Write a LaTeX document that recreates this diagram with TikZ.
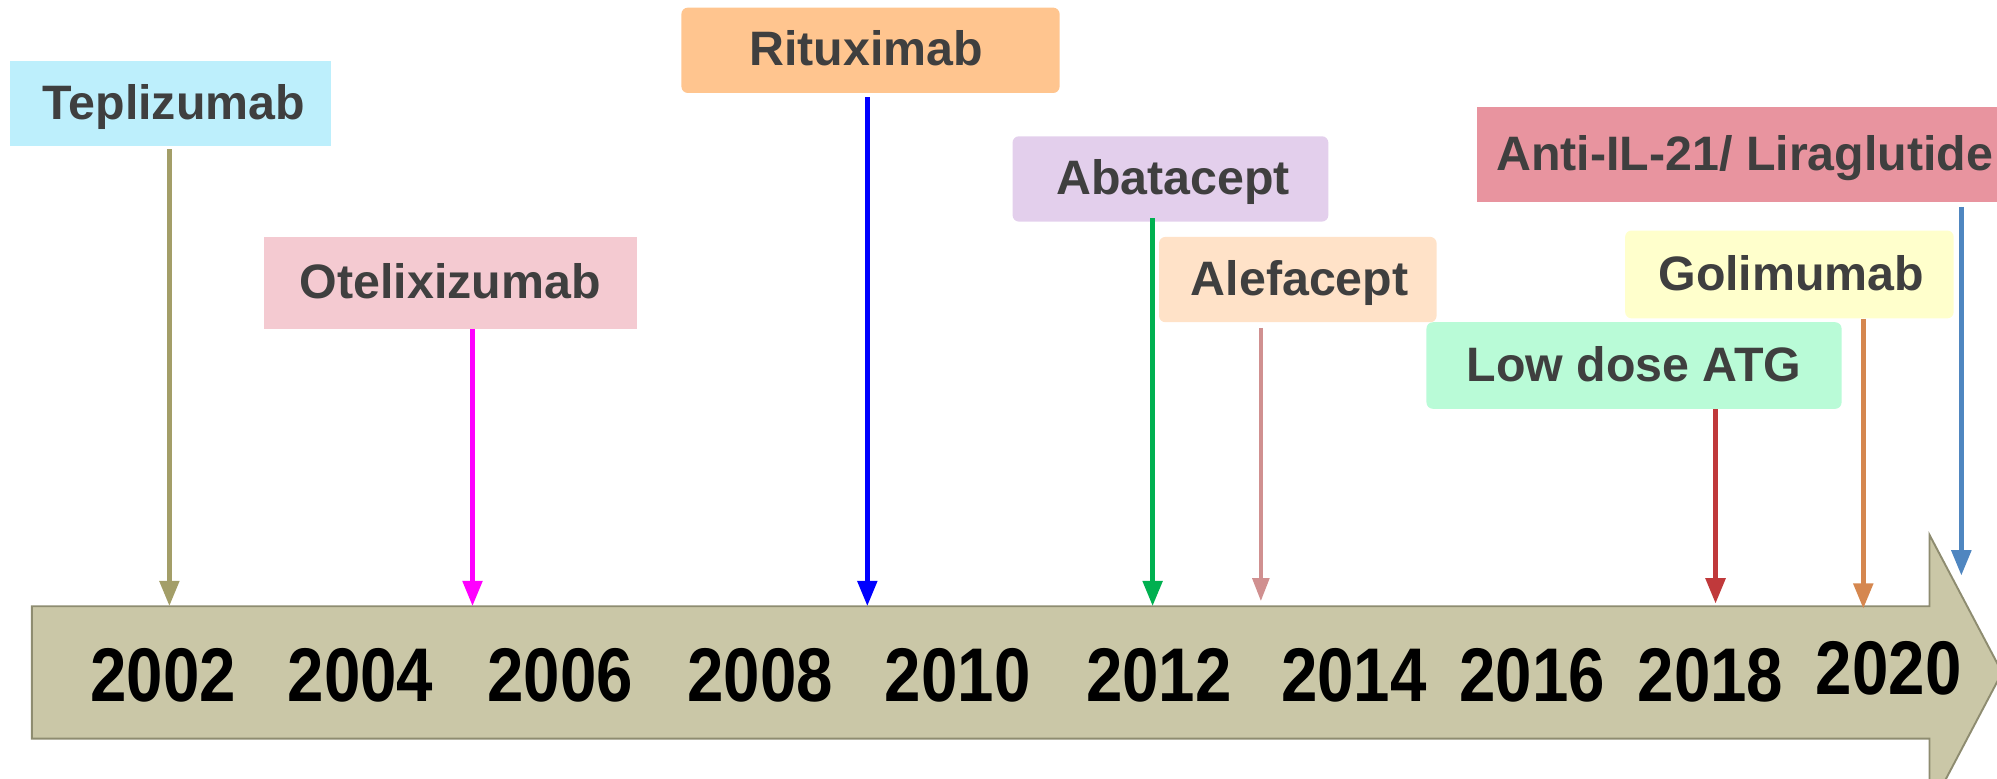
\documentclass[tikz,border=0pt]{standalone}
\usepackage{fontspec}
\setmainfont{Liberation Sans}
\newfontfamily\yearfont[FakeStretch=0.86]{Liberation Sans}
\usetikzlibrary{arrows.meta}
\definecolor{tepF}{HTML}{BDEFFC}
\definecolor{oteF}{HTML}{F4CAD1}
\definecolor{ritF}{HTML}{FFC58F}
\definecolor{abaF}{HTML}{E3CFEC}
\definecolor{aleF}{HTML}{FFE2C8}
\definecolor{antiF}{HTML}{E8949F}
\definecolor{goliF}{HTML}{FFFFCC}
\definecolor{atgF}{HTML}{B9FBD7}
\definecolor{tepC}{HTML}{A39E68}
\definecolor{oteC}{HTML}{FF00FF}
\definecolor{ritC}{HTML}{0000FF}
\definecolor{abaC}{HTML}{00B050}
\definecolor{aleC}{HTML}{D09090}
\definecolor{antiC}{HTML}{4F86C0}
\definecolor{goliC}{HTML}{D5874F}
\definecolor{atgC}{HTML}{C0393B}
\definecolor{lineF}{HTML}{CAC7A7}
\definecolor{lineD}{HTML}{8E8C70}
\definecolor{labT}{HTML}{3F3F3F}
\tikzset{
  label box/.style={inner sep=0pt, text=labT, font=\fontsize{21.6}{25}\selectfont\bfseries, anchor=center, text depth=0.06cm},
  sharp/.style={label box},
  rnd/.style={label box, rounded corners=0.1cm},
  year/.style={inner sep=0pt, text=black, font=\fontsize{34}{40}\yearfont\bfseries},
  pin/.style={line width=0.08cm, -{Triangle[length=0.4cm,width=0.3cm]}},
  thinpin/.style={line width=0.06cm, -{Triangle[length=0.36cm,width=0.26cm]}}
}
\begin{document}
\begin{tikzpicture}[x=0.02cm,y=-0.02cm]
\useasboundingbox (0,0) rectangle (1568,611);
\clip (0,0) rectangle (1568,611);
% timeline arrow
\draw[fill=lineF, draw=lineD, line width=0.03cm]
  (25,476) -- (1515,476) -- (1515,420) -- (1572,528) -- (1515,636) -- (1515,580) -- (25,580) -- cycle;
% years
\node[year] (y2002) at (128,530) {2002};
\node[year] (y2004) at (283,530) {2004};
\node[year] (y2006) at (440,530) {2006};
\node[year] (y2008) at (597,530) {2008};
\node[year] (y2010) at (752,530) {2010};
\node[year] (y2012) at (910,530) {2012};
\node[year] (y2014) at (1063,530) {2014};
\node[year] (y2016) at (1203,530) {2016};
\node[year] (y2018) at (1343,530) {2018};
\node[year] (y2020) at (1483,525) {2020};
% boxes
\node[sharp, fill=tepF, minimum width=5.04cm, minimum height=1.34cm] (tep) at (134,81.5) {\hspace*{0.1cm}Teplizumab};
\node[sharp, fill=oteF, minimum width=5.86cm, minimum height=1.44cm] (ote) at (353.5,222) {Otelixizumab};
\node[rnd, fill=ritF, minimum width=5.94cm, minimum height=1.34cm] (rit) at (683.5,39.5) {Rituximab\hspace*{0.14cm}};
\node[rnd, fill=abaF, minimum width=4.96cm, minimum height=1.34cm] (aba) at (919,140.5) {\hspace*{0.08cm}Abatacept};
\node[rnd, fill=aleF, minimum width=4.36cm, minimum height=1.34cm] (ale) at (1019,219.5) {\hspace*{0.06cm}Alefacept};
\node[sharp, fill=antiF, minimum width=8.4cm, minimum height=1.5cm] (anti) at (1370,121.5) {Anti-IL-21/ Liraglutide};
\node[rnd, fill=goliF, minimum width=5.16cm, minimum height=1.38cm] (goli) at (1405,215.5) {\hspace*{0.06cm}Golimumab};
\node[rnd, fill=atgF, minimum width=6.52cm, minimum height=1.36cm] (atg) at (1283,287) {Low dose ATG};
% arrow tips
\coordinate (t1) at (133,476);
\coordinate (t2) at (371,476);
\coordinate (t3) at (681,476);
\coordinate (t4) at (905,476);
\coordinate (t5) at (990,472);
\coordinate (t6) at (1540,452);
\coordinate (t7) at (1463,478);
\coordinate (t8) at (1347,474);
% connectors
\draw[pin, draw=tepC, fill=tepC] ([yshift=-0.04cm]tep.south -| t1) -- (t1);
\draw[pin, draw=oteC, fill=oteC] (ote.south -| t2) -- (t2);
\draw[pin, draw=ritC, fill=ritC] ([yshift=-0.06cm]rit.south -| t3) -- (t3);
\draw[pin, draw=abaC, fill=abaC] ([yshift=0.06cm]aba.south -| t4) -- (t4);
\draw[thinpin, draw=aleC, fill=aleC] ([yshift=-0.08cm]ale.south -| t5) -- (t5);
\draw[pin, draw=antiC, fill=antiC] ([yshift=-0.06cm]anti.south -| t6) -- (t6);
\draw[pin, draw=goliC, fill=goliC] (goli.south -| t7) -- (t7);
\draw[pin, draw=atgC, fill=atgC] (atg.south -| t8) -- (t8);
\end{tikzpicture}
\end{document}
